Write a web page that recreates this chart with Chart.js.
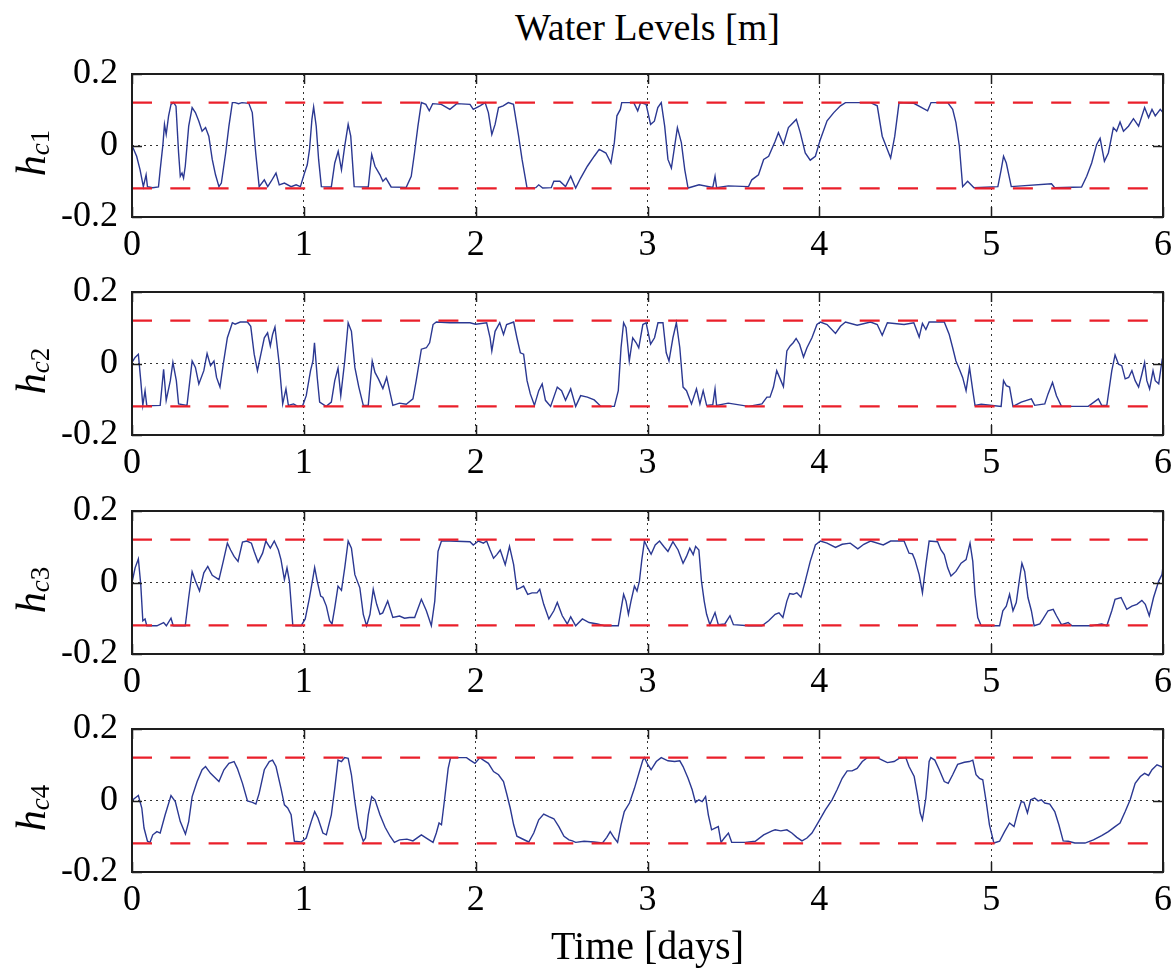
<!DOCTYPE html>
<html>
<head>
<meta charset="utf-8">
<title>Water Levels</title>
<script src="https://cdn.jsdelivr.net/npm/chart.js@4.4.1/dist/chart.umd.min.js"></script>
<style>
  body { margin: 0; background: #fff; }
  #wrap { position: relative; width: 1176px; height: 971px; font-family: "Liberation Serif", "Times New Roman", serif; color: #000; overflow: hidden; }
  #wrap canvas { position: absolute; left: 0; }
  .title, .xlab { position: absolute; left: 132px; width: 1031px; text-align: center; line-height: 1; white-space: nowrap; }
  .title { font-size: 38px; top: 8px; }
  .xlab { font-size: 40px; top: 926px; }
  .ylab { position: absolute; left: 31px; font-size: 42px; line-height: 1; white-space: nowrap;
          transform: translate(-50%, -50%) rotate(-90deg); }
  .ylab .sub { font-size: 27px; position: relative; top: 4px; }
</style>
</head>
<body>
<div id="wrap">
  <div class="title">Water Levels [m]</div>

  <canvas id="panel1" width="1176" height="224" style="top:50px"></canvas>
  <canvas id="panel2" width="1176" height="224" style="top:268px"></canvas>
  <canvas id="panel3" width="1176" height="224" style="top:487px"></canvas>
  <canvas id="panel4" width="1176" height="224" style="top:705px"></canvas>

  <div class="ylab" style="top:152.5px"><i>h</i><span class="sub"><i>c</i>1</span></div>
  <div class="ylab" style="top:370.5px"><i>h</i><span class="sub"><i>c</i>2</span></div>
  <div class="ylab" style="top:589.5px"><i>h</i><span class="sub"><i>c</i>3</span></div>
  <div class="ylab" style="top:807.5px"><i>h</i><span class="sub"><i>c</i>4</span></div>

  <div class="xlab">Time [days]</div>
</div>

<script>
// оси и пороги
const dayTicks = [0, 1, 2, 3, 4, 5, 6];
const levelTicks = [-0.2, 0, 0.2];
const thresholds = [0.12, -0.12];

// уровни воды, пары [сутки, м]
const levelsC1 = [
  [0,0],[0.027,-0.03],[0.047,-0.068],[0.066,-0.115],[0.082,-0.082],[0.09,-0.115],[0.12,-0.118],[0.154,-0.116],
  [0.164,-0.068],[0.18,0.003],[0.189,0.059],[0.199,0.031],[0.213,0.083],[0.227,0.115],[0.242,0.12],[0.256,0.11],
  [0.271,-0.02],[0.281,-0.086],[0.291,-0.077],[0.3,-0.091],[0.31,-0.058],[0.33,0.054],[0.35,0.106],[0.369,0.092],
  [0.389,0.068],[0.408,0.04],[0.428,0.05],[0.447,0.026],[0.467,-0.039],[0.486,-0.082],[0.506,-0.115],[0.52,-0.105],
  [0.545,-0.021],[0.564,0.054],[0.584,0.12],[0.6,0.12],[0.62,0.117],[0.64,0.12],[0.68,0.118],[0.7,0.092],
  [0.72,-0.021],[0.74,-0.115],[0.77,-0.096],[0.79,-0.115],[0.81,-0.1],[0.838,-0.077],[0.857,-0.11],[0.887,-0.105],
  [0.926,-0.115],[0.955,-0.11],[0.98,-0.115],[1.004,-0.077],[1.02,-0.054],[1.033,-0.011],[1.047,0.073],[1.057,0.108],
  [1.072,0.054],[1.086,-0.039],[1.102,-0.115],[1.16,-0.116],[1.18,-0.049],[1.2,-0.016],[1.219,-0.068],[1.238,-0.002],
  [1.258,0.059],[1.273,0.026],[1.293,-0.115],[1.375,-0.116],[1.395,-0.025],[1.414,-0.058],[1.443,-0.082],[1.46,-0.1],
  [1.478,-0.091],[1.508,-0.116],[1.596,-0.117],[1.625,-0.086],[1.644,-0.021],[1.664,0.054],[1.684,0.12],[1.71,0.115],
  [1.73,0.097],[1.75,0.117],[1.8,0.115],[1.85,0.101],[1.89,0.117],[1.967,0.115],[1.986,0.101],[2.025,0.111],
  [2.055,0.12],[2.074,0.092],[2.094,0.031],[2.113,0.059],[2.133,0.106],[2.16,0.111],[2.19,0.12],[2.22,0.115],
  [2.25,0.026],[2.27,-0.039],[2.299,-0.119],[2.35,-0.118],[2.367,-0.11],[2.39,-0.119],[2.44,-0.118],[2.455,-0.1],
  [2.49,-0.1],[2.523,-0.115],[2.553,-0.086],[2.582,-0.119],[2.611,-0.091],[2.65,-0.058],[2.69,-0.03],[2.719,-0.011],
  [2.758,-0.021],[2.787,-0.049],[2.807,0.008],[2.822,0.083],[2.842,0.101],[2.85,0.12],[2.92,0.12],[2.943,0.097],
  [2.96,0.12],[2.992,0.115],[3.018,0.059],[3.04,0.068],[3.06,0.106],[3.08,0.12],[3.1,0.054],[3.119,-0.039],
  [3.139,-0.063],[3.158,-0.002],[3.174,0.05],[3.197,0.008],[3.217,-0.068],[3.236,-0.119],[3.3,-0.11],[3.38,-0.117],
  [3.393,-0.086],[3.402,-0.118],[3.47,-0.113],[3.588,-0.115],[3.607,-0.096],[3.646,-0.082],[3.676,-0.039],[3.705,-0.03],
  [3.743,0.012],[3.762,0.036],[3.791,0.003],[3.82,0.05],[3.84,0.06],[3.866,0.073],[3.889,0.036],[3.918,-0.021],
  [3.947,-0.041],[3.977,-0.03],[4.006,0.017],[4.045,0.069],[4.084,0.092],[4.123,0.111],[4.152,0.12],[4.298,0.12],
  [4.337,0.111],[4.366,0.026],[4.415,-0.035],[4.439,0.026],[4.464,0.12],[4.55,0.118],[4.63,0.097],[4.65,0.12],
  [4.747,0.12],[4.776,0.101],[4.795,0.064],[4.815,-0.002],[4.834,-0.115],[4.863,-0.1],[4.9,-0.118],[5.039,-0.115],
  [5.058,-0.068],[5.072,-0.03],[5.088,-0.049],[5.117,-0.115],[5.351,-0.107],[5.37,-0.118],[5.526,-0.116],[5.556,-0.086],
  [5.585,-0.049],[5.614,0.003],[5.634,0.02],[5.659,-0.044],[5.682,-0.021],[5.711,0.05],[5.73,0.04],[5.75,0.066],
  [5.77,0.04],[5.799,0.054],[5.828,0.075],[5.858,0.054],[5.893,0.106],[5.916,0.078],[5.936,0.101],[5.955,0.083],
  [5.984,0.101],[6.0,0.092]
];

const levelsC2 = [
  [0,0.003],[0.018,0.017],[0.037,0.026],[0.051,-0.048],[0.063,-0.117],[0.076,-0.076],[0.086,-0.118],[0.164,-0.117],
  [0.184,-0.016],[0.199,-0.103],[0.223,-0.048],[0.238,0.003],[0.258,-0.048],[0.271,-0.113],[0.32,-0.117],[0.35,0.007],
  [0.369,-0.011],[0.389,-0.057],[0.418,-0.02],[0.437,0.028],[0.457,-0.006],[0.477,0.007],[0.492,-0.039],[0.512,-0.066],
  [0.531,-0.002],[0.555,0.072],[0.584,0.114],[0.6,0.11],[0.63,0.116],[0.672,0.116],[0.691,0.104],[0.711,0.026],
  [0.73,-0.02],[0.75,0.026],[0.77,0.072],[0.789,0.086],[0.805,0.049],[0.818,0.081],[0.832,0.102],[0.857,-0.002],
  [0.877,-0.113],[0.896,-0.071],[0.91,-0.117],[0.94,-0.113],[0.965,-0.12],[0.994,-0.117],[1.014,-0.09],[1.039,-0.02],
  [1.053,0.007],[1.062,0.058],[1.078,-0.039],[1.092,-0.108],[1.13,-0.12],[1.16,-0.108],[1.18,-0.048],[1.199,-0.013],
  [1.215,-0.09],[1.238,0.007],[1.258,0.114],[1.277,0.09],[1.297,-0.011],[1.32,-0.066],[1.346,-0.117],[1.375,-0.117],
  [1.398,0.007],[1.414,-0.025],[1.434,-0.043],[1.46,-0.07],[1.482,-0.039],[1.518,-0.117],[1.557,-0.111],[1.596,-0.114],
  [1.635,-0.099],[1.654,-0.048],[1.684,0.04],[1.713,0.044],[1.732,0.058],[1.752,0.109],[1.771,0.116],[1.85,0.114],
  [1.967,0.114],[2.0,0.11],[2.064,0.114],[2.084,0.072],[2.094,0.035],[2.113,0.09],[2.14,0.114],[2.162,0.081],
  [2.18,0.109],[2.221,0.116],[2.24,0.072],[2.26,0.03],[2.279,0.026],[2.299,-0.048],[2.318,-0.085],[2.342,-0.117],
  [2.367,-0.076],[2.387,-0.057],[2.406,-0.103],[2.436,-0.12],[2.475,-0.066],[2.5,-0.076],[2.523,-0.103],[2.553,-0.071],
  [2.582,-0.12],[2.611,-0.09],[2.65,-0.094],[2.69,-0.102],[2.729,-0.12],[2.807,-0.12],[2.83,-0.076],[2.846,0.044],
  [2.861,0.114],[2.875,0.1],[2.894,0.007],[2.914,0.072],[2.934,0.058],[2.949,0.044],[2.973,0.109],[2.992,0.114],
  [3.018,0.054],[3.041,0.072],[3.061,0.114],[3.09,0.114],[3.109,0.03],[3.125,0.007],[3.148,0.072],[3.168,0.114],
  [3.188,0.044],[3.207,-0.066],[3.227,-0.076],[3.256,-0.113],[3.285,-0.071],[3.305,-0.113],[3.324,-0.076],[3.344,-0.117],
  [3.38,-0.115],[3.393,-0.071],[3.402,-0.117],[3.47,-0.111],[3.588,-0.12],[3.666,-0.113],[3.695,-0.094],[3.713,-0.094],
  [3.733,-0.066],[3.752,-0.02],[3.772,-0.043],[3.791,-0.065],[3.811,0.035],[3.83,0.049],[3.848,0.058],[3.865,0.07],
  [3.885,0.054],[3.908,0.018],[3.928,0.044],[3.957,0.072],[3.986,0.109],[4.006,0.116],[4.045,0.109],[4.094,0.084],
  [4.123,0.104],[4.152,0.116],[4.22,0.107],[4.298,0.116],[4.337,0.109],[4.366,0.079],[4.396,0.114],[4.493,0.109],
  [4.55,0.114],[4.581,0.074],[4.6,0.112],[4.62,0.095],[4.639,0.116],[4.727,0.116],[4.756,0.081],[4.776,0.044],
  [4.795,0.007],[4.815,-0.016],[4.834,-0.039],[4.854,-0.076],[4.874,-0.011],[4.893,-0.076],[4.906,-0.117],[4.942,-0.114],
  [5.058,-0.12],[5.072,-0.048],[5.088,-0.062],[5.107,-0.066],[5.127,-0.12],[5.175,-0.108],[5.234,-0.099],[5.253,-0.117],
  [5.312,-0.113],[5.331,-0.085],[5.357,-0.053],[5.38,-0.09],[5.409,-0.12],[5.565,-0.12],[5.624,-0.099],[5.643,-0.117],
  [5.673,-0.117],[5.702,-0.02],[5.721,0.024],[5.741,-0.002],[5.76,-0.006],[5.78,-0.043],[5.8,-0.039],[5.819,-0.02],
  [5.838,-0.048],[5.858,-0.066],[5.877,-0.03],[5.893,0.003],[5.906,-0.048],[5.922,-0.071],[5.942,-0.02],[5.955,-0.048],
  [5.975,-0.057],[5.994,0.007],[6.0,-0.002]
];

const levelsC3 = [
  [0,0],[0.018,0.041],[0.037,0.066],[0.051,-0.006],[0.063,-0.107],[0.076,-0.102],[0.086,-0.121],[0.145,-0.121],
  [0.184,-0.112],[0.2,-0.121],[0.227,-0.1],[0.24,-0.121],[0.31,-0.121],[0.33,-0.042],[0.35,0.03],[0.369,0.004],
  [0.393,-0.024],[0.418,0.027],[0.441,0.045],[0.467,0.02],[0.506,0.008],[0.531,0.059],[0.555,0.11],[0.574,0.091],
  [0.594,0.073],[0.617,0.059],[0.643,0.113],[0.668,0.116],[0.695,0.11],[0.711,0.087],[0.734,0.057],[0.76,0.082],
  [0.779,0.116],[0.805,0.096],[0.828,0.116],[0.852,0.091],[0.867,0.064],[0.887,0.008],[0.902,0.041],[0.916,0.004],
  [0.936,-0.121],[0.984,-0.121],[1.008,-0.102],[1.033,-0.042],[1.053,0.013],[1.063,0.042],[1.078,0.004],[1.098,-0.038],
  [1.111,-0.042],[1.131,-0.066],[1.15,-0.107],[1.164,-0.116],[1.18,-0.07],[1.199,-0.01],[1.219,-0.022],[1.238,0.041],
  [1.258,0.116],[1.277,0.096],[1.297,0.022],[1.326,-0.015],[1.346,-0.089],[1.365,-0.121],[1.385,-0.089],[1.404,-0.019],
  [1.424,-0.061],[1.443,-0.089],[1.459,-0.085],[1.488,-0.052],[1.518,-0.098],[1.557,-0.094],[1.586,-0.1],[1.615,-0.098],
  [1.645,-0.098],[1.684,-0.047],[1.713,-0.079],[1.742,-0.121],[1.762,-0.052],[1.781,0.087],[1.801,0.116],[1.85,0.116],
  [1.967,0.114],[1.986,0.105],[2.016,0.116],[2.045,0.11],[2.064,0.116],[2.084,0.091],[2.104,0.068],[2.123,0.078],
  [2.143,0.091],[2.172,0.05],[2.197,0.101],[2.221,0.05],[2.24,-0.019],[2.26,-0.015],[2.279,-0.01],[2.303,-0.033],
  [2.328,-0.029],[2.357,-0.029],[2.373,-0.019],[2.396,-0.061],[2.426,-0.102],[2.455,-0.079],[2.475,-0.056],[2.504,-0.093],
  [2.533,-0.116],[2.553,-0.096],[2.582,-0.121],[2.621,-0.102],[2.66,-0.112],[2.709,-0.116],[2.748,-0.121],[2.83,-0.121],
  [2.846,-0.075],[2.861,-0.033],[2.875,-0.052],[2.889,-0.089],[2.904,-0.052],[2.924,-0.01],[2.939,-0.024],[2.953,0.004],
  [2.967,0.064],[2.982,0.116],[3.002,0.096],[3.021,0.079],[3.045,0.105],[3.07,0.116],[3.096,0.1],[3.119,0.087],
  [3.148,0.114],[3.178,0.091],[3.207,0.054],[3.227,0.073],[3.246,0.096],[3.266,0.078],[3.28,0.101],[3.299,0.091],
  [3.314,0.004],[3.33,-0.052],[3.344,-0.089],[3.363,-0.118],[3.393,-0.084],[3.412,-0.118],[3.45,-0.116],[3.48,-0.093],
  [3.5,-0.118],[3.588,-0.121],[3.666,-0.121],[3.705,-0.107],[3.743,-0.089],[3.765,-0.085],[3.788,-0.098],[3.811,-0.052],
  [3.827,-0.031],[3.848,-0.033],[3.869,-0.029],[3.893,-0.041],[3.918,0.004],[3.947,0.059],[3.977,0.105],[4.006,0.116],
  [4.045,0.11],[4.094,0.098],[4.133,0.107],[4.18,0.11],[4.224,0.094],[4.259,0.107],[4.298,0.116],[4.372,0.105],
  [4.415,0.116],[4.493,0.116],[4.522,0.082],[4.542,0.08],[4.556,0.064],[4.581,0.022],[4.6,-0.029],[4.62,0.05],
  [4.639,0.116],[4.688,0.114],[4.708,0.091],[4.727,0.078],[4.747,0.041],[4.766,0.018],[4.795,0.031],[4.825,0.054],
  [4.854,0.064],[4.877,0.11],[4.893,0.059],[4.906,-0.033],[4.922,-0.098],[4.942,-0.121],[5.049,-0.121],[5.068,-0.079],
  [5.088,-0.066],[5.107,-0.033],[5.127,-0.079],[5.146,-0.056],[5.166,0.013],[5.179,0.054],[5.195,0.031],[5.214,-0.042],
  [5.234,-0.079],[5.25,-0.121],[5.283,-0.116],[5.302,-0.102],[5.331,-0.079],[5.361,-0.075],[5.38,-0.093],[5.409,-0.118],
  [5.448,-0.112],[5.47,-0.121],[5.585,-0.121],[5.643,-0.116],[5.673,-0.121],[5.702,-0.079],[5.721,-0.047],[5.756,-0.042],
  [5.789,-0.075],[5.819,-0.066],[5.848,-0.061],[5.877,-0.05],[5.897,-0.061],[5.92,-0.093],[5.945,-0.042],[5.975,0.004],
  [5.994,0.022],[6.0,0.045]
];

const levelsC4 = [
  [0,0],[0.018,0.007],[0.037,0.014],[0.057,-0.021],[0.07,-0.077],[0.09,-0.114],[0.105,-0.117],[0.121,-0.096],
  [0.145,-0.087],[0.164,-0.091],[0.193,-0.04],[0.227,0.014],[0.252,-0.003],[0.281,-0.059],[0.311,-0.094],[0.33,-0.059],
  [0.35,0.011],[0.379,0.053],[0.408,0.086],[0.428,0.095],[0.457,0.076],[0.506,0.053],[0.535,0.086],[0.564,0.104],
  [0.594,0.109],[0.613,0.09],[0.643,0.048],[0.672,-0.001],[0.701,-0.005],[0.721,-0.01],[0.74,0.02],[0.77,0.086],
  [0.799,0.109],[0.818,0.113],[0.838,0.095],[0.867,0.034],[0.887,-0.012],[0.906,-0.021],[0.926,-0.04],[0.945,-0.114],
  [0.984,-0.116],[1.014,-0.105],[1.043,-0.059],[1.063,-0.031],[1.082,-0.049],[1.111,-0.091],[1.131,-0.096],[1.16,-0.04],
  [1.18,0.034],[1.199,0.113],[1.219,0.109],[1.238,0.12],[1.258,0.118],[1.277,0.072],[1.297,-0.003],[1.32,-0.077],
  [1.346,-0.114],[1.359,-0.105],[1.375,-0.04],[1.395,0.011],[1.414,0.002],[1.443,-0.04],[1.473,-0.075],[1.502,-0.1],
  [1.527,-0.117],[1.557,-0.11],[1.6,-0.108],[1.635,-0.113],[1.684,-0.096],[1.713,-0.105],[1.752,-0.117],[1.771,-0.091],
  [1.787,-0.063],[1.801,-0.068],[1.82,0.007],[1.84,0.09],[1.854,0.12],[1.947,0.12],[1.967,0.113],[1.996,0.104],
  [2.025,0.12],[2.045,0.113],[2.074,0.104],[2.104,0.081],[2.133,0.072],[2.162,0.053],[2.182,0.016],[2.201,-0.021],
  [2.221,-0.068],[2.24,-0.1],[2.27,-0.107],[2.309,-0.116],[2.338,-0.091],[2.367,-0.054],[2.396,-0.038],[2.426,-0.045],
  [2.455,-0.051],[2.484,-0.073],[2.514,-0.1],[2.543,-0.11],[2.563,-0.113],[2.582,-0.117],[2.631,-0.114],[2.689,-0.116],
  [2.738,-0.119],[2.763,-0.103],[2.783,-0.087],[2.807,-0.105],[2.826,-0.117],[2.846,-0.068],[2.865,-0.031],[2.895,-0.007],
  [2.924,0.034],[2.953,0.081],[2.973,0.113],[2.982,0.12],[3.002,0.1],[3.021,0.086],[3.051,0.109],[3.08,0.12],
  [3.119,0.111],[3.158,0.109],[3.188,0.111],[3.207,0.095],[3.236,0.062],[3.26,0.03],[3.279,-0.005],[3.299,0.002],
  [3.318,-0.003],[3.338,0.011],[3.354,-0.04],[3.373,-0.082],[3.393,-0.077],[3.412,-0.073],[3.428,-0.117],[3.447,-0.105],
  [3.471,-0.091],[3.49,-0.117],[3.568,-0.117],[3.627,-0.114],[3.676,-0.096],[3.725,-0.085],[3.743,-0.082],[3.776,-0.085],
  [3.811,-0.082],[3.84,-0.091],[3.869,-0.103],[3.899,-0.113],[3.928,-0.105],[3.957,-0.091],[3.996,-0.059],[4.035,-0.026],
  [4.074,0.002],[4.103,0.03],[4.133,0.062],[4.162,0.083],[4.191,0.083],[4.22,0.09],[4.25,0.109],[4.279,0.12],
  [4.337,0.12],[4.366,0.113],[4.396,0.106],[4.435,0.109],[4.464,0.118],[4.503,0.12],[4.522,0.095],[4.552,0.067],
  [4.571,0.016],[4.587,-0.035],[4.6,-0.054],[4.62,0.007],[4.639,0.109],[4.649,0.12],[4.672,0.113],[4.698,0.086],
  [4.727,0.053],[4.75,0.048],[4.776,0.072],[4.805,0.101],[4.844,0.107],[4.873,0.109],[4.893,0.113],[4.912,0.072],
  [4.932,0.062],[4.951,0.058],[4.971,-0.003],[4.99,-0.068],[5.016,-0.119],[5.049,-0.114],[5.078,-0.087],[5.107,-0.063],
  [5.133,-0.073],[5.156,-0.031],[5.175,-0.003],[5.191,-0.005],[5.211,-0.035],[5.23,0.002],[5.253,0.007],[5.273,-0.001],
  [5.292,0.002],[5.312,-0.007],[5.341,-0.01],[5.37,-0.031],[5.394,-0.068],[5.419,-0.113],[5.448,-0.114],[5.487,-0.119],
  [5.546,-0.119],[5.595,-0.11],[5.643,-0.098],[5.682,-0.087],[5.721,-0.073],[5.75,-0.063],[5.78,-0.031],[5.809,0.002],
  [5.838,0.048],[5.868,0.067],[5.893,0.076],[5.916,0.07],[5.936,0.086],[5.965,0.1],[5.99,0.095],[6.0,0.092]
];

const SERIF = '"Liberation Serif", "Times New Roman", serif';
const FRAME = '#1e1e1e';

// рамка осей и засечки внутрь, как в MATLAB
const framePlugin = {
    id: 'frame',
    afterDatasetsDraw(chart) {
        const { ctx, chartArea: a, scales: { x, y } } = chart;
        const len = 10;
        ctx.save();
        ctx.strokeStyle = FRAME;
        ctx.lineWidth = 1.5;
        ctx.beginPath();
        dayTicks.forEach(v => {
            const px = Math.round(x.getPixelForValue(v)) + 0.5;
            ctx.moveTo(px, a.bottom); ctx.lineTo(px, a.bottom - len);
            ctx.moveTo(px, a.top); ctx.lineTo(px, a.top + len);
        });
        levelTicks.forEach(v => {
            const py = Math.round(y.getPixelForValue(v)) + 0.5;
            ctx.moveTo(a.left, py); ctx.lineTo(a.left + len, py);
            ctx.moveTo(a.right, py); ctx.lineTo(a.right - len, py);
        });
        ctx.stroke();
        ctx.lineWidth = 2;
        ctx.strokeRect(a.left, a.top, a.right - a.left, a.bottom - a.top);
        ctx.restore();
    }
};

// убираем поля, которые Chart.js добавляет под крайние подписи
function noEdgePadding(s) {
    s.paddingTop = 0;
    s.paddingBottom = 0;
    s.paddingLeft = 0;
    s.paddingRight = 0;
}

function createLevelPanel(canvasId, series) {
    const ctx = document.getElementById(canvasId).getContext('2d');
    const first = dayTicks[0], last = dayTicks[dayTicks.length - 1];

    const limitSets = thresholds.map(v => ({
        data: [{ x: first, y: v }, { x: last, y: v }],
        borderColor: '#ea1f2a',
        borderWidth: 2.2,
        borderDash: [20, 18.3],
        pointRadius: 0,
        order: 0
    }));

    new Chart(ctx, {
        type: 'line',
        data: {
            datasets: [
                ...limitSets,
                {
                    data: series.map(p => ({ x: p[0], y: p[1] })),
                    borderColor: '#2b3892',
                    borderWidth: 1.4,
                    pointRadius: 0,
                    tension: 0,
                    order: 1
                }
            ]
        },
        options: {
            responsive: false,
            animation: false,
            events: [],
            layout: { padding: { top: 24, right: 13, left: 0, bottom: 0 } },
            plugins: {
                legend: { display: false },
                tooltip: { enabled: false }
            },
            scales: {
                x: {
                    type: 'linear',
                    min: first,
                    max: last,
                    afterBuildTicks: s => { s.ticks = dayTicks.map(v => ({ value: v })); },
                    afterFit: s => { s.height = 57; noEdgePadding(s); },
                    ticks: {
                        color: '#000',
                        font: { family: SERIF, size: 36 },
                        padding: 7,
                        maxRotation: 0,
                        autoSkip: false
                    },
                    grid: {
                        drawTicks: false,
                        lineWidth: 1,
                        color: c => (c.tick && c.tick.value > first && c.tick.value < last) ? '#333' : 'rgba(0,0,0,0)'
                    },
                    border: { display: false, dash: [2, 4] }
                },
                y: {
                    min: levelTicks[0],
                    max: levelTicks[levelTicks.length - 1],
                    afterBuildTicks: s => { s.ticks = levelTicks.map(v => ({ value: v })); },
                    afterFit: s => { s.width = 132; noEdgePadding(s); },
                    ticks: {
                        color: '#000',
                        font: { family: SERIF, size: 36 },
                        padding: 14,
                        autoSkip: false,
                        callback: v => String(v)
                    },
                    grid: {
                        drawTicks: false,
                        lineWidth: 1,
                        color: c => (c.tick && c.tick.value === 0) ? '#333' : 'rgba(0,0,0,0)'
                    },
                    border: { display: false, dash: [2, 4] }
                }
            }
        },
        plugins: [framePlugin]
    });
}

createLevelPanel('panel1', levelsC1);
createLevelPanel('panel2', levelsC2);
createLevelPanel('panel3', levelsC3);
createLevelPanel('panel4', levelsC4);
</script>
</body>
</html>
